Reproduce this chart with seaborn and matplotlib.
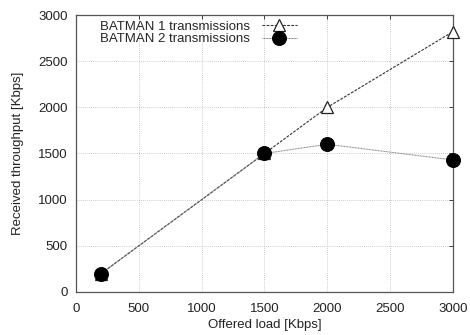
import matplotlib
matplotlib.use("Agg")
import matplotlib.pyplot as plt
import seaborn as sns
import pandas as pd

offered_load = [200, 1500, 2000, 3000]
batman1 = [200, 1500, 2000, 2820]
batman2 = [200, 1500, 1600, 1430]
xticks = [0, 500, 1000, 1500, 2000, 2500, 3000]
yticks = [0, 500, 1000, 1500, 2000, 2500, 3000]

sns.set_theme(style="white")
plt.rcParams["font.family"] = ["Liberation Sans", "DejaVu Sans"]

FS = 9.5
fig = plt.figure(figsize=(4.7, 3.35), dpi=100)
ax = fig.add_axes([0.1617, 0.1284, 0.8021, 0.8268])

df1 = pd.DataFrame({"x": offered_load, "y": batman1})
df2 = pd.DataFrame({"x": offered_load, "y": batman2})

sns.lineplot(data=df1, x="x", y="y", ax=ax, color="#333333", lw=0.8,
             linestyle=(0, (2.5, 1.2)), marker="^", markersize=9,
             markerfacecolor="white", markeredgecolor="#222222",
             markeredgewidth=0.9, label="BATMAN 1 transmissions", zorder=3,
             clip_on=False)
sns.lineplot(data=df2, x="x", y="y", ax=ax, color="#777777", lw=0.7,
             linestyle=(0, (1, 0.6)), marker="o", markersize=10,
             markerfacecolor="black", markeredgecolor="black",
             label="BATMAN 2 transmissions", zorder=4, clip_on=False)

ax.set_xlim(0, 3000)
ax.set_ylim(0, 3000)
ax.set_xticks(xticks)
ax.set_yticks(yticks)
ax.tick_params(axis="both", labelsize=FS, colors="#222222", direction="in",
               length=3, width=0.6, top=True, right=True)
ax.tick_params(axis="x", pad=8)
ax.tick_params(axis="y", pad=6)
ax.set_xlabel("Offered load [Kbps]", fontsize=FS, color="#222222", labelpad=3)
ax.set_ylabel("Received throughput [Kbps]", fontsize=FS, color="#222222", labelpad=10)
ax.grid(True, color="#bbbbbb", linestyle=(0, (1, 1.5)), linewidth=0.6)
for s in ax.spines.values():
    s.set_color("#555555")
    s.set_linewidth(0.9)

leg = ax.legend(loc="upper right", bbox_to_anchor=(0.608, 1.008), frameon=False,
                markerfirst=False, fontsize=FS, handlelength=2.7,
                handletextpad=0.9, labelspacing=0.0, borderaxespad=0.2)

fig.savefig("out.png", dpi=100)
